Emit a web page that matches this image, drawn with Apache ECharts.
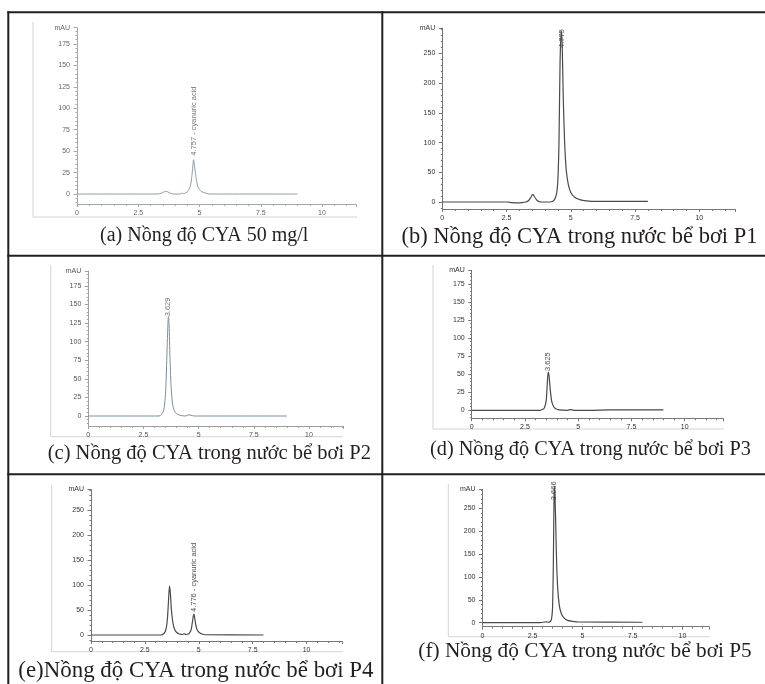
<!DOCTYPE html>
<html><head><meta charset="utf-8">
<script src="https://cdn.jsdelivr.net/npm/echarts@6/dist/echarts.min.js"></script>
<style>html,body{margin:0;padding:0;background:#fff}#c{width:765px;height:684px}</style>
</head><body><div id="c"></div>
<script>
// ---------- data ----------
const xTickLabels = [0, 2.5, 5, 7.5, 10];

const yTicksA = [0, 25, 50, 75, 100, 125, 150, 175];
const yTicksB = [0, 50, 100, 150, 200, 250];
const yTicksC = [0, 25, 50, 75, 100, 125, 150, 175];
const yTicksD = [0, 25, 50, 75, 100, 125, 150, 175];
const yTicksE = [0, 50, 100, 150, 200, 250];
const yTicksF = [0, 50, 100, 150, 200, 250];

const timeA   = [0, 3.30, 3.45, 3.55, 3.62, 3.70, 3.80, 3.95, 4.25, 4.30, 4.34, 4.45, 4.52, 4.60, 4.66, 4.70, 4.735, 4.757, 4.78, 4.82, 4.86, 4.92, 5.00, 5.10, 5.25, 5.40, 9.0];
const signalA = [0, 0, 1, 2.5, 3, 2.5, 1, 0, 0, 1.5, 0.3, 1.5, 3, 7, 14, 24, 35, 40, 37, 27, 19, 10, 5, 2.5, 1, 0, 0];

const timeB   = [0, 2.55, 2.70, 2.90, 3.10, 3.25, 3.35, 3.45, 3.52, 3.60, 3.70, 3.85, 4.20, 4.35, 4.45, 4.50, 4.54, 4.58, 4.61, 4.64, 4.67, 4.71, 4.76, 4.82, 4.90, 5.00, 5.15, 5.35, 5.60, 6.00, 8.0];
const signalB = [0, 0, -1, -1.5, -1, 0, 2, 8, 13, 8, 2, 0, 0, 3, 15, 40, 100, 230, 275, 288, 255, 170, 100, 55, 30, 16, 8, 4, 2, 1, 1];

const timeC   = [0, 3.20, 3.32, 3.42, 3.50, 3.56, 3.60, 3.63, 3.66, 3.70, 3.75, 3.82, 3.90, 4.00, 4.15, 4.40, 4.55, 4.65, 4.80, 9.0];
const signalC = [0, 0, 2, 8, 30, 80, 118, 134, 122, 80, 40, 16, 7, 3, 1, 0, 1.5, 1, 0, 0];

const timeD   = [0, 3.20, 3.32, 3.42, 3.50, 3.55, 3.59, 3.63, 3.69, 3.76, 3.85, 3.95, 4.10, 4.50, 4.65, 4.80, 5.50, 6.50, 9.0];
const signalD = [0, 0, 1, 4, 14, 38, 53, 48, 28, 12, 5, 2, 0.5, 0, 1, 0, 0, 0.5, 0.5];

const timeE   = [0, 3.25, 3.38, 3.47, 3.54, 3.60, 3.64, 3.68, 3.73, 3.80, 3.88, 3.98, 4.10, 4.25, 4.32, 4.40, 4.55, 4.64, 4.70, 4.745, 4.776, 4.81, 4.86, 4.93, 5.02, 5.15, 5.30, 8.0];
const signalE = [0, 0, 3, 10, 30, 72, 98, 85, 50, 24, 11, 5, 2, 1, 2.5, 1, 3, 10, 25, 38, 42, 34, 20, 10, 5, 2, 0.5, 0];

const timeF   = [0, 2.90, 3.10, 3.20, 3.30, 3.38, 3.45, 3.50, 3.54, 3.57, 3.59, 3.62, 3.66, 3.70, 3.76, 3.84, 3.94, 4.06, 4.25, 4.50, 4.80, 8.0];
const signalF = [0, 0, 1.5, 2, 1, 2, 8, 30, 120, 250, 298, 280, 220, 140, 75, 38, 20, 11, 5, 3, 1.5, 1];

const peakLabels = ['4.757 - cyanuric acid', '4.775', '3.629', '3.625', '4.776 - cyanuric acid', '3.666'];
const peakIndexForLabel = [null, null, null, null, 'second', null];

const captions = [
  '(a) Nồng độ CYA 50 mg/l',
  '(b) Nồng độ CYA trong nước bể bơi P1',
  '(c) Nồng độ CYA trong nước bể bơi P2',
  '(d) Nồng độ CYA trong nước bể bơi P3',
  '(e)Nồng độ CYA trong nước bể bơi P4',
  '(f) Nồng độ CYA trong nước bể bơi P5'
];

// ---------- layout / style ----------
const layout = [
  {x0: 77,    xs: 24.5,  xMax: 11.4,  y0: 194,   ys: 0.857, yMax: 194, off: 10, minor: 5,  curve: '#8e9cab', lw: 1,   axis: '#a8a8a8', text: '#666', lblGap: 4,   frame: [33, 22, 357, 217],  cap: {x: 100, y: 235.5, s: 20}},
  {x0: 442.3, xs: 25.7,  xMax: 11.4,  y0: 202,   ys: 0.594, yMax: 293, off: 7,  minor: 10, curve: '#4a4a4a', lw: 1.2, axis: '#777',    text: '#333', lblGap: -17, frame: null,               cap: {x: 401.5, y: 237.5, s: 22.5}},
  {x0: 88.3,  xs: 22.07, xMax: 11.54, y0: 416,   ys: 0.744, yMax: 195, off: 10, minor: 5,  curve: '#7f8d9a', lw: 1,   axis: '#a0a0a0', text: '#555', lblGap: 0,   frame: [50.7, 265, 343, 436.7], cap: {x: 47.7, y: 453.7, s: 20.5}},
  {x0: 471.7, xs: 21.3,  xMax: 11.8,  y0: 410.3, ys: 0.722, yMax: 194, off: 8,  minor: 5,  curve: '#4a4a4a', lw: 1.2, axis: '#777',    text: '#333', lblGap: 1,   frame: [433, 265, 724, 429],  cap: {x: 430, y: 449.8, s: 20.3}},
  {x0: 91,    xs: 21.56, xMax: 11.66, y0: 635,   ys: 0.5,   yMax: 291, off: 6,  minor: 10, curve: '#4a4a4a', lw: 1.2, axis: '#777',    text: '#333', lblGap: 2,   frame: [51.7, 485, 343, 651.7], cap: {x: 18.3, y: 670.5, s: 22.9}},
  {x0: 482.5, xs: 20,    xMax: 11.33, y0: 622.7, ys: 0.458, yMax: 291, off: 4,  minor: 10, curve: '#4a4a4a', lw: 1.2, axis: '#777',    text: '#333', lblGap: -14, frame: [448.3, 484, 710, 636.7], cap: {x: 418.3, y: 651, s: 21.3}}
];

const times = [timeA, timeB, timeC, timeD, timeE, timeF];
const signals = [signalA, signalB, signalC, signalD, signalE, signalF];
const yTicks = [yTicksA, yTicksB, yTicksC, yTicksD, yTicksE, yTicksF];

const grid = [], xAxis = [], yAxis = [], series = [], graphic = [];
const F = 'Liberation Sans, Arial, sans-serif';

layout.forEach((L, i) => {
  const yMin = -L.off / L.ys;
  grid.push({left: L.x0, top: L.y0 - L.yMax * L.ys, width: L.xMax * L.xs, height: L.yMax * L.ys + L.off, containLabel: false});
  xAxis.push({
    gridIndex: i, type: 'value', min: 0, max: L.xMax, interval: 2.5,
    axisLine: {show: true, onZero: false, lineStyle: {color: L.axis, width: 1}},
    axisTick: {show: true, length: 3, lineStyle: {color: L.axis}},
    minorTick: {show: true, splitNumber: 5, length: 2, lineStyle: {color: L.axis}},
    axisLabel: {fontSize: 7, fontFamily: F, color: L.text, margin: 5.5,
      formatter: v => xTickLabels.indexOf(Math.round(v * 100) / 100) >= 0 ? String(Math.round(v * 100) / 100) : ''},
    splitLine: {show: false}
  });
  const minorVals = [];
  for (let v = Math.ceil(yMin / L.minor) * L.minor; v <= L.yMax; v += L.minor) minorVals.push(v);
  const majorVals = yTicks[i].concat([L.yMax]);
  yAxis.push({
    gridIndex: i, type: 'value', min: yMin, max: L.yMax, position: 'left',
    axisLine: {show: true, lineStyle: {color: L.axis, width: 1}},
    axisTick: {show: true, customValues: minorVals, length: 1.5, lineStyle: {color: L.axis}},
    axisLabel: {customValues: majorVals, fontSize: 7, fontFamily: F, color: L.text, margin: 7,
      formatter: v => (Math.abs(v - L.yMax) < 1e-6 ? 'mAU' : String(v))},
    splitLine: {show: false}
  });
  yAxis.push({
    gridIndex: i, type: 'value', min: yMin, max: L.yMax, position: 'left',
    axisLine: {show: false},
    axisTick: {show: true, customValues: majorVals, length: 3.5, lineStyle: {color: L.axis}},
    axisLabel: {show: false}, splitLine: {show: false}
  });
  const t = times[i], s = signals[i];
  series.push({
    type: 'line', xAxisIndex: i, yAxisIndex: 2 * i,
    data: t.map((x, k) => [x, s[k]]),
    showSymbol: false, smooth: 0.25, clip: false, silent: true,
    lineStyle: {color: L.curve, width: L.lw}
  });
  // peak used for the label: tallest, or the later peak
  let k = 0;
  if (peakIndexForLabel[i] === 'second') {
    let best = -1;
    t.forEach((x, j) => { if (x > 4.3 && s[j] > best) { best = s[j]; k = j; } });
  } else {
    s.forEach((v, j) => { if (v > s[k]) k = j; });
  }
  series.push({
    type: 'scatter', xAxisIndex: i, yAxisIndex: 2 * i,
    data: [[t[k], s[k]]], symbolSize: 0, clip: false, silent: true,
    label: {show: true, formatter: peakLabels[i], rotate: 90, position: 'top', distance: L.lblGap,
      align: 'left', verticalAlign: 'middle', fontSize: 7.5, fontFamily: F,
      color: L.text === '#333' ? '#222' : '#555'}
  });
  if (L.frame) {
    const [fx0, fy0, fx1, fy1] = L.frame;
    graphic.push({type: 'line', shape: {x1: fx0, y1: fy0, x2: fx0, y2: fy1}, style: {stroke: '#d4d4d4', lineWidth: 1}});
    graphic.push({type: 'line', shape: {x1: fx0, y1: fy1, x2: fx1, y2: fy1}, style: {stroke: '#d4d4d4', lineWidth: 1}});
  }
  graphic.push({type: 'text', x: L.cap.x, y: L.cap.y,
    style: {text: captions[i], font: L.cap.s + 'px "Liberation Serif", "Times New Roman", serif', fill: '#231f20', textAlign: 'left', textVerticalAlign: 'middle'}});
});

// table rules
const rule = (x1, y1, x2, y2) => graphic.push({type: 'line', shape: {x1, y1, x2, y2}, style: {stroke: '#231f20', lineWidth: 2}});
rule(7.3, 12.3, 765, 12.3);
rule(8.3, 11.3, 8.3, 684);
rule(382.3, 11.3, 382.3, 684);
rule(7.3, 255.7, 765, 255.7);
rule(7.3, 474.3, 765, 474.3);

const chart = echarts.init(document.getElementById('c'), null, {renderer: 'canvas'});
chart.setOption({animation: false, backgroundColor: '#fff', grid, xAxis, yAxis, series, graphic});
</script></body></html>
